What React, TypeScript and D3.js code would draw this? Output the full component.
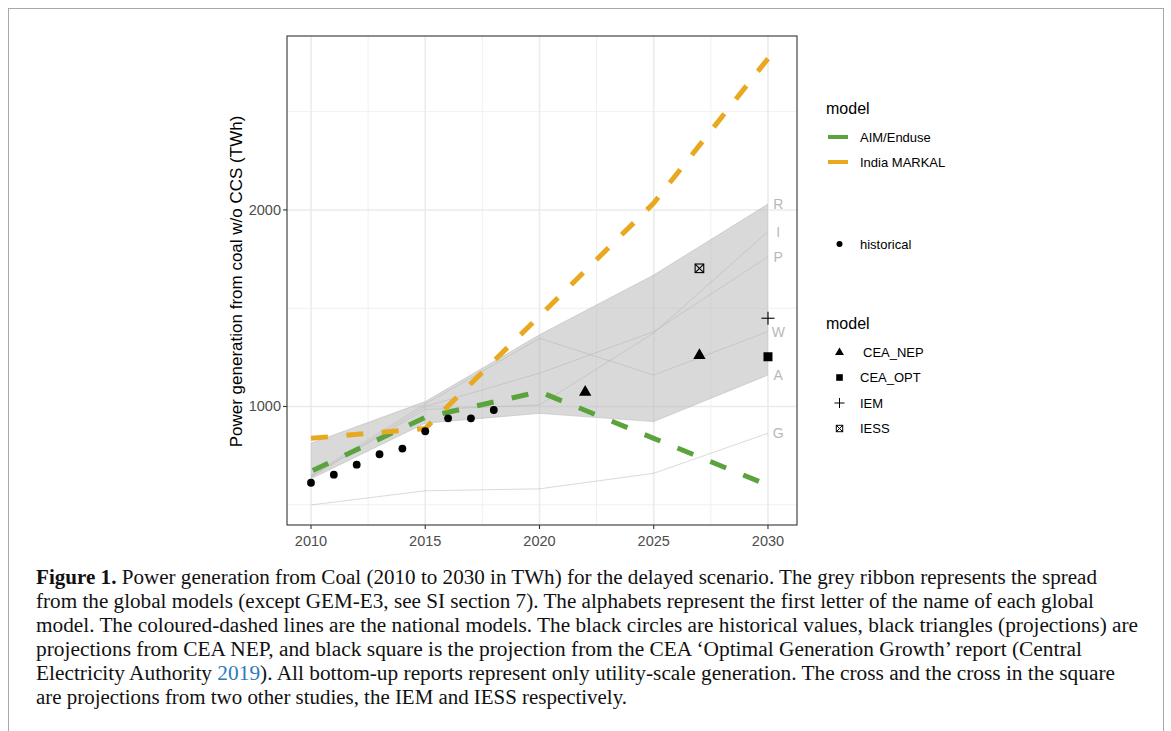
import React from 'react';
import * as d3 from 'd3';

// ---------- data ----------
const years = [2010, 2015, 2020, 2025, 2030];
const modelR = [813, 1025, 1365, 1669, 2030];
const modelI = [645, 985, 1008, 1374, 1890];
const modelP = [640, 1000, 1169, 1381, 1762];
const modelW = [650, 1012, 1347, 1160, 1381];
const modelA = [632, 915, 965, 923, 1160];
const modelG = [499, 571, 581, 660, 864];
const letterLabels = ['R', 'I', 'P', 'W', 'A', 'G'];

const aimEnduse = [670, 945, 1075, 838, 600];
const indiaMarkal = [838, 888, 1460, 2035, 2770];

const histYears = [2010, 2011, 2012, 2013, 2014, 2015, 2016, 2017, 2018];
const histValues = [612, 653, 704, 757, 786, 874, 940, 940, 982];

const ceaNepYears = [2022, 2027];
const ceaNepValues = [1078, 1265];
const ceaOptYears = [2030];
const ceaOptValues = [1253];
const iemYears = [2030];
const iemValues = [1449];
const iessYears = [2027];
const iessValues = [1703];

const xTicks = [2010, 2015, 2020, 2025, 2030];
const xMinor = [2012.5, 2017.5, 2022.5, 2027.5];
const yTicks = [1000, 2000];
const yMinor = [500, 1500, 2500];

const legendLines = ['AIM/Enduse', 'India MARKAL'];
const legendPoints = ['CEA_NEP', 'CEA_OPT', 'IEM', 'IESS'];

const captionLines = [
  'Power generation from Coal (2010 to 2030 in TWh) for the delayed scenario. The grey ribbon represents the spread',
  'from the global models (except GEM-E3, see SI section 7). The alphabets represent the first letter of the name of each global',
  'model. The coloured-dashed lines are the national models. The black circles are historical values, black triangles (projections) are',
  'projections from CEA NEP, and black square is the projection from the CEA \u2018Optimal Generation Growth\u2019 report (Central',
  '). All bottom-up reports represent only utility-scale generation. The cross and the cross in the square',
  'are projections from two other studies, the IEM and IESS respectively.',
];
const captionWidths = [1061, 1058, 1102, 1046, 1079, 591];

// ---------- style ----------
const GREEN = '#5ba33d';
const ORANGE = '#e8a920';
const SANS = '"Liberation Sans", Arial, Helvetica, sans-serif';
const SERIF = '"Liberation Serif", "Times New Roman", serif';

const panel = { left: 287, right: 797, top: 36, bottom: 525 };

export default function App() {
  const x = d3.scaleLinear().domain([2008.95, 2031.27]).range([panel.left, panel.right]);
  const y = d3.scaleLinear().domain([397, 2885]).range([panel.bottom, panel.top]);

  const globals = [modelR, modelI, modelP, modelW, modelA, modelG];
  const ribbonModels = [modelR, modelI, modelP, modelW, modelA];
  const ribbon = years.map((yr, i) => ({
    yr,
    lo: d3.min(ribbonModels, (m) => m[i]) as number,
    hi: d3.max(ribbonModels, (m) => m[i]) as number,
  }));

  const area = d3
    .area<{ yr: number; lo: number; hi: number }>()
    .x((d) => x(d.yr))
    .y0((d) => y(d.lo))
    .y1((d) => y(d.hi));

  const line = d3
    .line<number>()
    .x((_, i) => x(years[i]))
    .y((d) => y(d));

  const tri = d3.symbol().type(d3.symbolTriangle).size(66)() as string;

  return (
    <svg
      width={1171}
      height={731}
      style={{ position: 'absolute', left: 0, top: 0, background: '#fff' }}
      fontFamily={SANS}
    >
      {/* figure frame */}
      <rect x={8.5} y={8.5} width={1155} height={740} fill="none" stroke="#a8a8a8" strokeWidth={1} />

      <defs>
        <clipPath id="pclip">
          <rect x={panel.left} y={panel.top} width={panel.right - panel.left} height={panel.bottom - panel.top} />
        </clipPath>
      </defs>

      {/* gridlines */}
      <g>
        {xMinor.map((t) => (
          <line key={'xm' + t} x1={x(t)} x2={x(t)} y1={panel.top} y2={panel.bottom} stroke="#f0f0f0" strokeWidth={1} />
        ))}
        {yMinor.map((t) => (
          <line key={'ym' + t} x1={panel.left} x2={panel.right} y1={y(t)} y2={y(t)} stroke="#f0f0f0" strokeWidth={1} />
        ))}
        {xTicks.map((t) => (
          <line key={'xg' + t} x1={x(t)} x2={x(t)} y1={panel.top} y2={panel.bottom} stroke="#ebebeb" strokeWidth={1.6} />
        ))}
        {yTicks.map((t) => (
          <line key={'yg' + t} x1={panel.left} x2={panel.right} y1={y(t)} y2={y(t)} stroke="#ebebeb" strokeWidth={1.6} />
        ))}
      </g>

      <g clipPath="url(#pclip)">
        <path d={area(ribbon) as string} fill="#b3b3b3" fillOpacity={0.5} />
        {globals.map((m, i) => (
          <path key={'g' + i} d={line(m) as string} fill="none" stroke="#b0b0b0" strokeOpacity={0.6} strokeWidth={0.8} />
        ))}
        <path d={line(aimEnduse) as string} fill="none" stroke={GREEN} strokeWidth={5} strokeDasharray="17 18.5" strokeDashoffset={-2} />
        <path d={line(indiaMarkal) as string} fill="none" stroke={ORANGE} strokeWidth={5} strokeDasharray="17 18.5" />
        {histYears.map((yr, i) => (
          <circle key={'h' + yr} cx={x(yr)} cy={y(histValues[i])} r={3.9} fill="#000" />
        ))}
        {ceaNepYears.map((yr, i) => (
          <path key={'n' + yr} d={tri} transform={`translate(${x(yr)},${y(ceaNepValues[i]) + 1})`} fill="#000" />
        ))}
        {ceaOptYears.map((yr, i) => (
          <rect key={'o' + yr} x={x(yr) - 4.5} y={y(ceaOptValues[i]) - 4.5} width={9} height={9} fill="#000" />
        ))}
        {iemYears.map((yr, i) => (
          <g key={'i' + yr} stroke="#000" strokeWidth={1.1}>
            <line x1={x(yr) - 6.5} x2={x(yr) + 6.5} y1={y(iemValues[i])} y2={y(iemValues[i])} />
            <line x1={x(yr)} x2={x(yr)} y1={y(iemValues[i]) - 6.5} y2={y(iemValues[i]) + 6.5} />
          </g>
        ))}
        {iessYears.map((yr, i) => {
          const cx = x(yr);
          const cy = y(iessValues[i]);
          return (
            <g key={'s' + yr} stroke="#000" strokeWidth={1.1} fill="none">
              <rect x={cx - 4.3} y={cy - 4.3} width={8.6} height={8.6} />
              <line x1={cx - 4.3} y1={cy - 4.3} x2={cx + 4.3} y2={cy + 4.3} />
              <line x1={cx - 4.3} y1={cy + 4.3} x2={cx + 4.3} y2={cy - 4.3} />
            </g>
          );
        })}
      </g>

      {/* letter labels */}
      {globals.map((m, i) => (
        <text
          key={'l' + i}
          x={x(2030.45)}
          y={y(m[m.length - 1])}
          fontSize={14}
          fill="#b8b8b8"
          textAnchor="middle"
          dominantBaseline="central"
        >
          {letterLabels[i]}
        </text>
      ))}

      {/* panel border */}
      <rect
        x={panel.left}
        y={panel.top}
        width={panel.right - panel.left}
        height={panel.bottom - panel.top}
        fill="none"
        stroke="#333"
        strokeWidth={1.1}
      />

      {/* x axis */}
      {xTicks.map((t) => (
        <g key={'xt' + t}>
          <line x1={x(t)} x2={x(t)} y1={panel.bottom} y2={panel.bottom + 4} stroke="#333" strokeWidth={1.1} />
          <text x={x(t)} y={panel.bottom + 16} fontSize={14.5} fill="#4d4d4d" textAnchor="middle" dominantBaseline="central">
            {t}
          </text>
        </g>
      ))}
      {/* y axis */}
      {yTicks.map((t) => (
        <g key={'yt' + t}>
          <line x1={panel.left - 4} x2={panel.left} y1={y(t)} y2={y(t)} stroke="#333" strokeWidth={1.1} />
          <text x={panel.left - 6} y={y(t)} fontSize={14.5} fill="#4d4d4d" textAnchor="end" dominantBaseline="central">
            {t}
          </text>
        </g>
      ))}
      <text
        transform={`translate(236,${(panel.top + panel.bottom) / 2 + 1}) rotate(-90)`}
        fontSize={17}
        fill="#000"
        textAnchor="middle"
        dominantBaseline="central"
      >
        Power generation from coal w/o CCS (TWh)
      </text>

      {/* legends */}
      <text x={826} y={108} fontSize={16} fill="#000" dominantBaseline="central">model</text>
      {legendLines.map((lab, i) => (
        <g key={'ll' + lab}>
          <line x1={828} x2={848} y1={137 + i * 25} y2={137 + i * 25} stroke={i === 0 ? GREEN : ORANGE} strokeWidth={4} />
          <text x={860} y={137 + i * 25} fontSize={13} fill="#000" dominantBaseline="central">{lab}</text>
        </g>
      ))}
      <circle cx={839.5} cy={244} r={3} fill="#000" />
      <text x={860} y={244} fontSize={13} fill="#000" dominantBaseline="central">historical</text>

      <text x={826} y={323} fontSize={16} fill="#000" dominantBaseline="central">model</text>
      {legendPoints.map((lab, i) => {
        const cy = 352 + i * 25.5;
        const cx = 839.5;
        let sym: React.ReactNode = null;
        if (i === 0) sym = <path d={d3.symbol().type(d3.symbolTriangle).size(34)() as string} transform={`translate(${cx},${cy + 0.5})`} fill="#000" />;
        if (i === 1) sym = <rect x={cx - 3.3} y={cy - 3.3} width={6.6} height={6.6} fill="#000" />;
        if (i === 2)
          sym = (
            <g stroke="#000" strokeWidth={1}>
              <line x1={cx - 5} x2={cx + 5} y1={cy} y2={cy} />
              <line x1={cx} x2={cx} y1={cy - 5} y2={cy + 5} />
            </g>
          );
        if (i === 3)
          sym = (
            <g stroke="#000" strokeWidth={1} fill="none">
              <rect x={cx - 3.2} y={cy - 3.2} width={6.4} height={6.4} />
              <line x1={cx - 3.2} y1={cy - 3.2} x2={cx + 3.2} y2={cy + 3.2} />
              <line x1={cx - 3.2} y1={cy + 3.2} x2={cx + 3.2} y2={cy - 3.2} />
            </g>
          );
        return (
          <g key={'lp' + lab}>
            {sym}
            <text x={i === 0 ? 863 : 860} y={cy} fontSize={13} fill="#000" dominantBaseline="central">{lab}</text>
          </g>
        );
      })}

      {/* caption */}
      <g fontFamily={SERIF} fontSize={20.5} fill="#111">
        <text x={36} y={584} textLength={captionWidths[0]} lengthAdjust="spacingAndGlyphs">
          <tspan fontWeight="bold">Figure 1.</tspan> {captionLines[0]}
        </text>
        <text x={36} y={608} textLength={captionWidths[1]} lengthAdjust="spacingAndGlyphs">{captionLines[1]}</text>
        <text x={36} y={632} textLength={captionWidths[2]} lengthAdjust="spacingAndGlyphs">{captionLines[2]}</text>
        <text x={36} y={656} textLength={captionWidths[3]} lengthAdjust="spacingAndGlyphs">{captionLines[3]}</text>
        <text x={36} y={680} textLength={captionWidths[4]} lengthAdjust="spacingAndGlyphs">
          Electricity Authority <tspan fill="#2b7bb9">2019</tspan>{captionLines[4]}
        </text>
        <text x={36} y={704} textLength={captionWidths[5]} lengthAdjust="spacingAndGlyphs">{captionLines[5]}</text>
      </g>
    </svg>
  );
}
